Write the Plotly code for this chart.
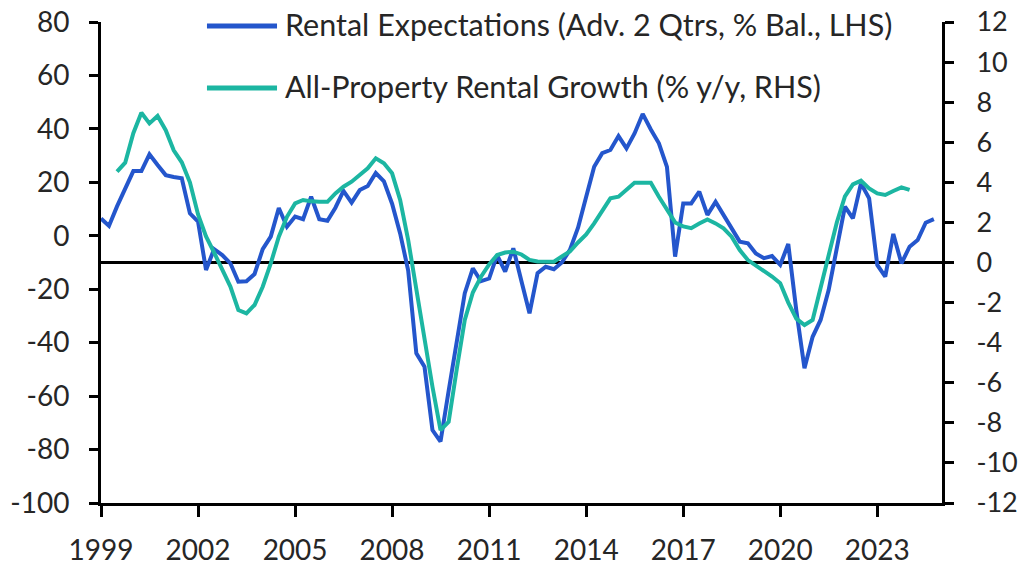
import pandas as pd
import plotly.graph_objects as go

BLUE = "#2456cc"
TEAL = "#1cb6a2"
INK = "#262626"
FONT = "Lato"

# quarterly, 1999 Q1 .. 2024 Q4 (% balance, LHS)
expect_dates = pd.date_range("1999-01-01", "2024-10-01", freq="QS").strftime("%Y-%m-%d").tolist()
expect_vals = [
    6.5, 3.7, 11, 18, 24.2, 24.2, 30.5, 26.5, 22.7, 22, 21.5, 8.4,
    5.3, -12.8, -5, -7.2, -10.3, -17.2, -17, -14.3, -5, -0.3, 10.4, 3.4,
    7.2, 6.2, 14.6, 6.2, 5.6, 10.5, 16.8, 12.4, 17.1, 18.6, 23.5, 20.4,
    12, 0.9, -13, -44, -49, -72.7, -77, -58, -39, -21.5, -12.2, -17,
    -16, -7.2, -13.4, -4.7, -17, -29, -14, -11.6, -12.5, -10, -5.3, 3,
    14.6, 25.8, 30.9, 32.1, 37.3, 32.7, 38.3, 45.6, 39.8, 34.6, 25.8, -7.8,
    12.1, 12.1, 16.5, 7.8, 12.7, 7.8, 3.4, -2.2, -2.8, -6.6, -8.4, -7.6,
    -10.9, -3.1, -28, -49.6, -37.8, -31.5, -20.3, -5.3, 10.9, 6.5, 19.6, 14,
    -10.9, -15.3, 0.7, -10.3, -4.1, -1.6, 4.9, 6.2,
]

# quarterly, 1999 Q3 .. 2024 Q1 (% y/y, RHS)
growth_dates = pd.date_range("1999-07-01", "2024-01-01", freq="QS").strftime("%Y-%m-%d").tolist()
growth_vals = [
    4.53, 4.98, 6.45, 7.47, 6.94, 7.31, 6.6, 5.6, 5.0, 4.0,
    2.4, 1.3, 0.5, -0.4, -1.2, -2.37, -2.54, -2.12, -1.21, -0.04, 1.29, 2.28,
    2.95, 3.12, 3.05, 3.03, 3.03, 3.45, 3.78, 4.03, 4.4, 4.7, 5.2, 4.95,
    4.45, 3.12, 1.12, -1.37, -3.87, -6.2, -8.36, -7.95, -5.3, -2.87, -1.5, -0.71,
    -0.1, 0.37, 0.5, 0.54, 0.4, 0.13, 0.05, 0.04, 0.04, 0.3, 0.55, 1.0,
    1.4, 1.95, 2.6, 3.2, 3.28, 3.6, 3.98, 3.98, 3.98, 3.28, 2.6, 2.0,
    1.8, 1.71, 1.95, 2.15, 1.95, 1.7, 1.29, 0.62, 0.12, -0.15, -0.4, -0.7,
    -1.04, -2.0, -2.8, -3.12, -2.87, -1.2, 0.5, 2.0, 3.3, 3.9, 4.08, 3.7,
    3.45, 3.37, 3.57, 3.75, 3.62,
]

year_ticks = [f"{y}-01-01" for y in range(1999, 2024, 3)]
year_labels = [str(y) for y in range(1999, 2024, 3)]
left_ticks = list(range(-100, 81, 20))
right_ticks = list(range(-12, 13, 2))

legend_names = [
    "Rental Expectations (Adv. 2 Qtrs, % Bal., LHS)",
    "All-Property Rental Growth (% y/y, RHS)",
]

fig = go.Figure()
fig.add_trace(go.Scatter(x=growth_dates, y=growth_vals, mode="lines", yaxis="y2",
                         name=legend_names[1], line=dict(color=TEAL, width=4)))
fig.add_trace(go.Scatter(x=expect_dates, y=expect_vals, mode="lines",
                         name=legend_names[0], line=dict(color=BLUE, width=4)))


def axis_style(size=28, **kw):
    d = dict(showgrid=False, showline=True, linecolor="black", linewidth=3,
             ticks="outside", ticklen=9, tickwidth=3, tickcolor="black", automargin=False,
             ticklabeloverflow="allow",
             tickfont=dict(family=FONT, size=size, color=INK))
    d.update(kw)
    return d


fig.update_layout(
    width=1021, height=565,
    margin=dict(l=101, r=79, t=22, b=62),
    paper_bgcolor="white", plot_bgcolor="white",
    showlegend=False,
    xaxis=axis_style(type="date", range=["1999-01-01", "2025-01-01"],
                     tickvals=year_ticks, ticktext=year_labels, ticklen=11,
                     ticklabelstandoff=9),
    yaxis=axis_style(range=[-100, 80], tickvals=left_ticks,
                     ticktext=[str(t) for t in left_ticks],
                     zeroline=False, ticklabelstandoff=14),
    yaxis2=axis_style(size=27, range=[-12, 12], tickvals=right_ticks,
                      ticktext=[str(t) for t in right_ticks],
                      overlaying="y", side="right",
                      zeroline=True, zerolinecolor="black", zerolinewidth=3,
                      ticklabelstandoff=17),
)

# hand-drawn legend to get the long line samples of the original
for i, (name, col) in enumerate(zip(legend_names, [BLUE, TEAL])):
    yy = [0.9917, 0.8628][i]
    fig.add_shape(type="line", xref="paper", yref="paper", x0=0.126, x1=0.2093,
                  y0=yy, y1=yy, line=dict(color=col, width=5))
    fig.add_annotation(xref="paper", yref="paper", x=0.2164, y=yy + 0.004, text=name,
                       showarrow=False, xanchor="left", yanchor="middle",
                       font=dict(family=FONT, size=30.5, color=INK))

# drop the default 8px page margin so the figure sits at the window corner
fig.write_html("out.html", config={"displayModeBar": False},
               post_script="document.body.style.margin='0';")
